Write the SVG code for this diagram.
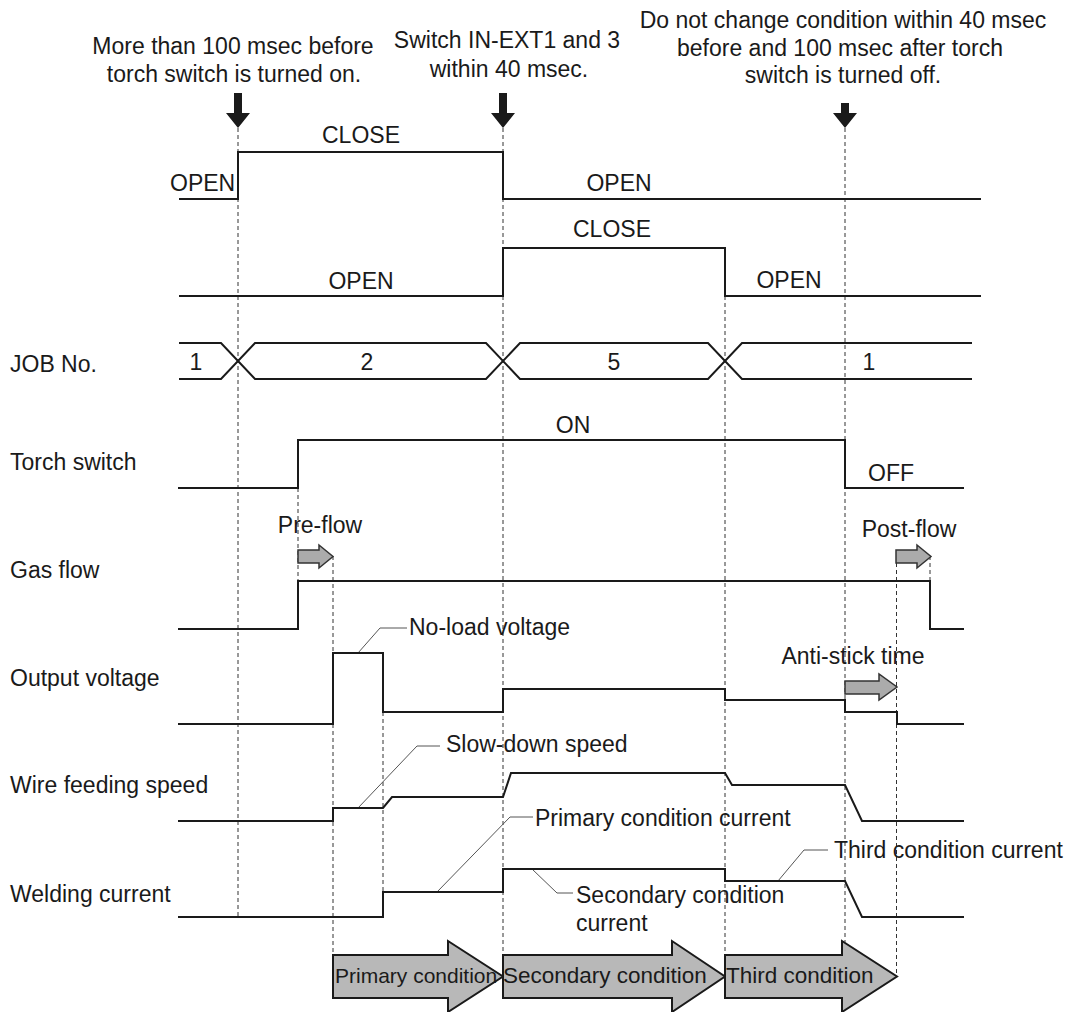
<svg xmlns="http://www.w3.org/2000/svg" width="1069" height="1012" viewBox="0 0 1069 1012">
<style>
.sig{fill:none;stroke:#1a1a1a;stroke-width:2;stroke-linejoin:miter}
.guide{fill:none;stroke:#333;stroke-width:1;stroke-dasharray:4 3}
.lead{fill:none;stroke:#555;stroke-width:1}
text{font-family:"Liberation Sans",Arial,Helvetica,sans-serif;font-size:23px;fill:#1a1a1a}
.c{text-anchor:middle}
.big{fill:#b8b8b8;stroke:#1a1a1a;stroke-width:2;stroke-linejoin:miter}
.small{fill:#ababab;stroke:#333;stroke-width:1.5}
.down{fill:#1a1a1a}
</style>
<rect width="1069" height="1012" fill="#fff"/>

<g id="connectors">
  <line class="guide" x1="238" y1="128" x2="238" y2="917"/>
  <line class="guide" x1="503" y1="128" x2="503" y2="955"/>
  <line class="guide" x1="725" y1="296" x2="725" y2="955"/>
  <line class="guide" x1="845" y1="128" x2="845" y2="942"/>
  <line class="guide" x1="298" y1="488" x2="298" y2="581"/>
  <line class="guide" x1="333" y1="556" x2="333" y2="955"/>
  <line class="guide" x1="383" y1="712" x2="383" y2="892"/>
  <line class="guide" x1="896.5" y1="556" x2="896.5" y2="976"/>
  <line class="guide" x1="930" y1="556" x2="930" y2="581"/>
  <path class="lead" d="M358,653 L380,628 H407"/>
  <path class="lead" d="M358,808 L417,746 H440"/>
  <path class="lead" d="M437,892 L510,817 H533"/>
  <path class="lead" d="M532,869 L557,893 H573"/>
  <path class="lead" d="M778,881 L804,850 H828"/>
</g>

<g id="note-1">
  <text class="c" x="233" y="54">More than 100 msec before</text>
  <text class="c" x="234" y="82">torch switch is turned on.</text>
  <path class="down" d="M234,93 H242 V113 H250 L238,128 L226,113 H234 Z"/>
</g>
<g id="note-2">
  <text class="c" x="507" y="48">Switch IN-EXT1 and 3</text>
  <text class="c" x="509" y="77">within 40 msec.</text>
  <path class="down" d="M499,93 H507 V113 H515 L503,128 L491,113 H499 Z"/>
</g>
<g id="note-3">
  <text class="c" x="843" y="28">Do not change condition within 40 msec</text>
  <text class="c" x="840" y="56">before and 100 msec after torch</text>
  <text class="c" x="843" y="83">switch is turned off.</text>
  <path class="down" d="M841,103 H849 V113 H857 L845,128 L833,113 H841 Z"/>
</g>

<g id="in-ext1">
  <path class="sig" d="M179,199 H238 V152 H503 V199 H981"/>
  <text x="170" y="191">OPEN</text>
  <text class="c" x="361" y="143">CLOSE</text>
  <text class="c" x="619" y="191">OPEN</text>
</g>

<g id="in-ext3">
  <path class="sig" d="M179,296 H503 V248 H725 V296 H981"/>
  <text class="c" x="361" y="289">OPEN</text>
  <text class="c" x="612" y="237">CLOSE</text>
  <text class="c" x="789" y="288">OPEN</text>
</g>

<g id="job-no">
  <text x="10" y="372">JOB No.</text>
  <path class="sig" d="M179,343 H221 L255,379 H486 L520,343 H708 L742,379 H972"/>
  <path class="sig" d="M179,379 H221 L255,343 H486 L520,379 H708 L742,343 H972"/>
  <text class="c" x="196" y="370">1</text>
  <text class="c" x="367" y="370">2</text>
  <text class="c" x="614" y="370">5</text>
  <text class="c" x="869" y="370">1</text>
</g>

<g id="torch-switch">
  <text x="10" y="470">Torch switch</text>
  <path class="sig" d="M178,488 H298 V440 H845 V488 H964"/>
  <text class="c" x="573" y="433">ON</text>
  <text class="c" x="891" y="481">OFF</text>
</g>

<g id="gas-flow">
  <text x="10" y="578">Gas flow</text>
  <path class="sig" d="M178,629 H298 V581 H930 V629 H964"/>
  <text class="c" x="320" y="533">Pre-flow</text>
  <path class="small" d="M298,550 H319 V545 L333,556.5 L319,568 V563 H298 Z"/>
  <text class="c" x="909" y="537">Post-flow</text>
  <path class="small" d="M896,550 H917 V545 L931,556.5 L917,568 V563 H896 Z"/>
</g>

<g id="output-voltage">
  <text x="10" y="686">Output voltage</text>
  <path class="sig" d="M178,724 H333 V653 H383 V712 H503 V689 H725 V700 H845 V712 H897 V724 H964"/>
  <text x="409" y="635">No-load voltage</text>
  <text class="c" x="853" y="664">Anti-stick time</text>
  <path class="small" d="M845,681 H879 V674 L897,687 L879,700 V694 H845 Z"/>
</g>

<g id="wire-feeding-speed">
  <text x="10" y="793">Wire feeding speed</text>
  <path class="sig" d="M178,821 H333 V808 H383 L392,797 H503 L511,773 H725 L732,785 H845 L862,821 H964"/>
  <text x="446" y="752">Slow-down speed</text>
</g>

<g id="welding-current">
  <text x="10" y="902">Welding current</text>
  <path class="sig" d="M178,917 H383 V892 H503 V869 H725 V881 H845 L862,917 H964"/>
  <text x="535" y="826">Primary condition current</text>
  <text x="576" y="903">Secondary condition</text>
  <text x="576" y="931">current</text>
  <text x="834" y="858">Third condition current</text>
</g>

<g id="primary-condition">
  <path class="big" d="M333,955 H448 V941 L503,976.5 L448,1012 V998 H333 Z"/>
  <text x="335" y="983" style="font-size:21px">Primary condition</text>
</g>
<g id="secondary-condition">
  <path class="big" d="M503,955 H672 V941 L725,976.5 L672,1012 V998 H503 Z"/>
  <text x="503" y="983" style="font-size:22.5px">Secondary condition</text>
</g>
<g id="third-condition">
  <path class="big" d="M725,955 H842 V941 L897,976.5 L842,1012 V998 H725 Z"/>
  <text x="726" y="983" style="font-size:22.5px">Third condition</text>
</g>
</svg>
